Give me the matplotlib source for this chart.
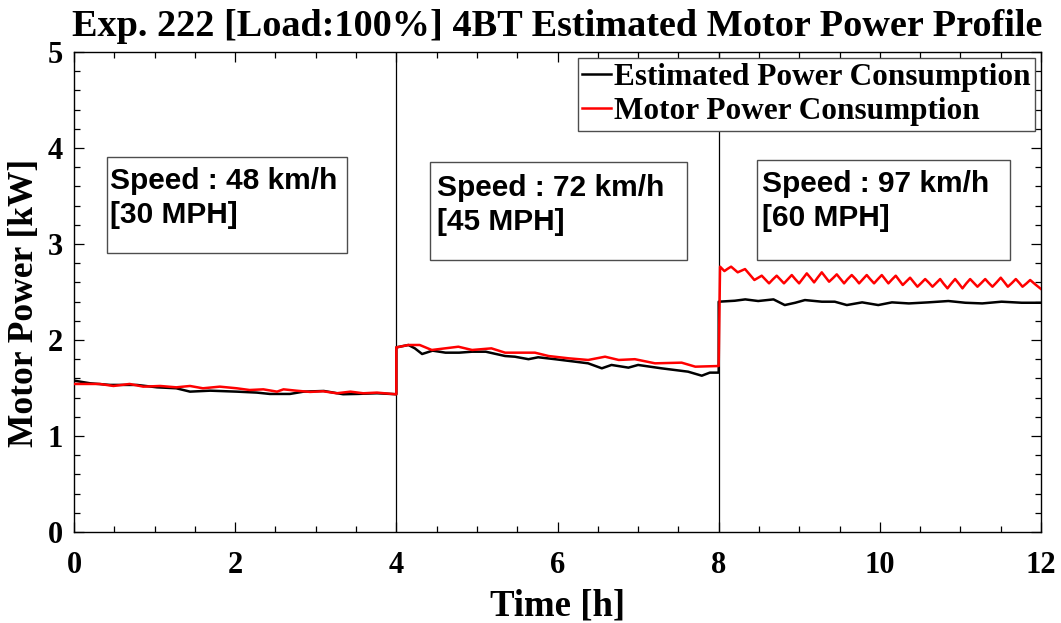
import matplotlib
matplotlib.use("Agg")
import matplotlib.pyplot as plt
from matplotlib.patches import Rectangle
from matplotlib.ticker import MultipleLocator

# ---- data -------------------------------------------------------------
# Estimated motor power [kW] vs time [h]
est_time = [0.00, 0.20, 0.45, 0.78, 1.03, 1.27, 1.44, 1.69, 2.02, 2.27, 2.43, 2.68,
            2.85, 3.10, 3.34, 3.51, 3.76, 4.00,
            4.00, 4.15, 4.23, 4.32, 4.45, 4.61, 4.78, 4.94, 5.11, 5.35, 5.47, 5.64,
            5.76, 5.97, 6.22, 6.38, 6.55, 6.67, 6.88, 7.00, 7.29, 7.62, 7.79, 7.89, 8.00,
            8.00, 8.20, 8.33, 8.49, 8.68, 8.82, 8.95, 9.07, 9.28, 9.44, 9.59, 9.78,
            9.98, 10.15, 10.36, 10.60, 10.85, 11.06, 11.27, 11.51, 11.76, 12.00]
est_power = [1.577, 1.549, 1.532, 1.532, 1.507, 1.497, 1.462, 1.472, 1.462, 1.452, 1.438, 1.438,
             1.462, 1.469, 1.435, 1.438, 1.445, 1.435,
             1.923, 1.948, 1.913, 1.854, 1.889, 1.868, 1.868, 1.878, 1.878, 1.833, 1.826, 1.800,
             1.820, 1.800, 1.774, 1.757, 1.705, 1.740, 1.712, 1.740, 1.705, 1.670, 1.628, 1.660, 1.660,
             2.399, 2.409, 2.423, 2.406, 2.423, 2.364, 2.388, 2.416, 2.399, 2.399, 2.364, 2.392,
             2.364, 2.392, 2.381, 2.392, 2.406, 2.388, 2.381, 2.399, 2.388, 2.388]

# Measured motor power [kW] vs time [h]
motor_time = [0.00, 0.32, 0.49, 0.69, 0.86, 1.07, 1.27, 1.44, 1.60, 1.81, 2.02, 2.18,
              2.35, 2.52, 2.60, 2.76, 2.93, 3.09, 3.26, 3.43, 3.59, 3.76, 4.00,
              4.00, 4.15, 4.29, 4.44, 4.60, 4.77, 4.94, 5.18, 5.35, 5.56, 5.72, 5.89,
              6.14, 6.38, 6.59, 6.76, 6.96, 7.21, 7.54, 7.71, 8.00,
              8.000, 8.017, 8.044, 8.071, 8.110, 8.154, 8.195, 8.236, 8.280, 8.327, 8.385,
              8.443, 8.490, 8.534, 8.580, 8.625, 8.670, 8.720, 8.765, 8.810, 8.860, 8.907,
              8.950, 8.998, 9.045, 9.093, 9.140, 9.184, 9.230, 9.279, 9.325, 9.370, 9.420,
              9.465, 9.510, 9.556, 9.600, 9.651, 9.700, 9.742, 9.790, 9.837, 9.880, 9.928,
              9.975, 10.024, 10.065, 10.106, 10.150, 10.197, 10.240, 10.284, 10.330, 10.375,
              10.420, 10.466, 10.515, 10.562, 10.610, 10.653, 10.700, 10.748, 10.790, 10.839,
              10.885, 10.934, 10.980, 11.025, 11.070, 11.120, 11.165, 11.211, 11.260, 11.307,
              11.350, 11.397, 11.450, 11.500, 11.545, 11.588, 11.640, 11.687, 11.730, 11.770,
              11.820, 11.865, 11.930, 12.000]
motor_power = [1.542, 1.542, 1.521, 1.542, 1.514, 1.521, 1.507, 1.521, 1.497, 1.514, 1.497, 1.479,
               1.486, 1.462, 1.486, 1.472, 1.459, 1.466, 1.445, 1.462, 1.445, 1.452, 1.434,
               1.923, 1.948, 1.948, 1.896, 1.913, 1.930, 1.896, 1.913, 1.868, 1.868, 1.868, 1.833,
               1.809, 1.792, 1.826, 1.792, 1.800, 1.757, 1.764, 1.722, 1.729,
               1.729, 2.764, 2.741, 2.718, 2.741, 2.764, 2.735, 2.705, 2.722, 2.739, 2.682,
               2.625, 2.648, 2.670, 2.630, 2.590, 2.630, 2.670, 2.630, 2.590, 2.634, 2.677,
               2.634, 2.590, 2.642, 2.694, 2.647, 2.600, 2.652, 2.705, 2.656, 2.607, 2.646,
               2.684, 2.637, 2.590, 2.634, 2.677, 2.634, 2.590, 2.634, 2.677, 2.634, 2.590,
               2.634, 2.677, 2.634, 2.590, 2.630, 2.670, 2.622, 2.573, 2.611, 2.649,
               2.602, 2.555, 2.595, 2.635, 2.595, 2.555, 2.595, 2.635, 2.587, 2.538,
               2.587, 2.635, 2.587, 2.538, 2.587, 2.635, 2.595, 2.555, 2.595, 2.635,
               2.595, 2.555, 2.602, 2.649, 2.602, 2.555, 2.595, 2.635, 2.595, 2.555,
               2.590, 2.625, 2.578, 2.531]

# Load-step boundaries [h]
step_times = [4, 8]

# Speed annotations per stage
speed_labels = ["Speed : 48 km/h\n[30 MPH]",
                "Speed : 72 km/h\n[45 MPH]",
                "Speed : 97 km/h\n[60 MPH]"]

title = "Exp. 222 [Load:100%] 4BT Estimated Motor Power Profile"
series_labels = ["Estimated Power Consumption", "Motor Power Consumption"]

# ---- figure -----------------------------------------------------------
serif = ["Liberation Serif", "DejaVu Serif"]
sans = ["Liberation Sans", "DejaVu Sans"]

fig = plt.figure(figsize=(10.61, 6.23), dpi=100)
ax = fig.add_axes([0.0697, 0.1461, 0.9115, 0.7704])

ax.vlines(step_times, 0, 5, color="black", lw=0.9, zorder=2)
ax.plot(est_time, est_power, color="black", lw=1.8, label=series_labels[0],
        solid_joinstyle="round", zorder=3)
ax.plot(motor_time, motor_power, color="red", lw=1.8, label=series_labels[1],
        solid_joinstyle="round", zorder=4)

ax.set_xlim(0, 12)
ax.set_ylim(0, 5)
ax.xaxis.set_major_locator(MultipleLocator(2))
ax.xaxis.set_minor_locator(MultipleLocator(0.5))
ax.yaxis.set_major_locator(MultipleLocator(1))
ax.yaxis.set_minor_locator(MultipleLocator(0.2))
ax.tick_params(which="both", direction="in", top=True, right=True, width=0.9)
ax.tick_params(which="major", length=7)
ax.tick_params(which="minor", length=4.3)
ax.tick_params(axis="x", which="major", pad=14)
ax.tick_params(axis="y", which="major", pad=8)
for lab in ax.get_xticklabels() + ax.get_yticklabels():
    lab.set_family(serif)
    lab.set_fontweight("bold")
    lab.set_fontsize(22)
for sp in ax.spines.values():
    sp.set_linewidth(1.0)

ax.set_xlabel("Time [h]", family=serif, fontweight="bold", fontsize=26.5)
ax.xaxis.label.set_va("baseline")
ax.xaxis.set_label_coords(0.5, -0.173)
ax.set_ylabel("Motor Power [kW]", family=serif, fontweight="bold", fontsize=25.5)
ax.yaxis.set_label_coords(-0.034, 0.477)

fig.text(0.525, (623 - 36) / 623, title, family=serif, fontweight="bold",
         fontsize=27.5, ha="center", va="baseline")

# Speed annotation boxes (data coordinates)
boxes = [(0.41, 2.91, 2.98, 1.0), (4.42, 2.83, 3.19, 1.02), (8.48, 2.83, 3.13, 1.05)]
text_pos = [(0.45, 3.48), (4.50, 3.41), (8.54, 3.45)]
for (bx, by, bw, bh), (tx, ty), lab in zip(boxes, text_pos, speed_labels):
    ax.add_patch(Rectangle((bx, by), bw, bh, facecolor="white",
                           edgecolor="0.3", lw=1.0, zorder=5))
    ax.text(tx, ty, lab, family=sans, fontweight="bold", fontsize=21.5,
            ha="left", va="center", linespacing=1.27, zorder=6)

leg = ax.legend(loc="upper right", bbox_to_anchor=(0.9938, 0.9875),
                prop={"family": serif, "weight": "bold", "size": 22.5},
                frameon=True, fancybox=False, framealpha=1, edgecolor="0.3",
                borderpad=0.15, labelspacing=0.18, handletextpad=0.1,
                handlelength=0.9, borderaxespad=0)
leg.get_frame().set_linewidth(1.0)
leg.set_zorder(7)

fig.savefig("out.png", dpi=100)
